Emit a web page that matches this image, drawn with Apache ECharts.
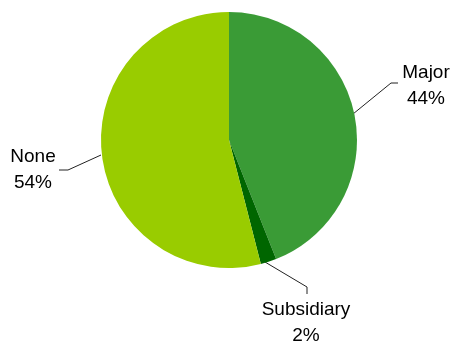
<!DOCTYPE html>
<html><head><meta charset="utf-8">
<script src="https://cdn.jsdelivr.net/npm/echarts@6/dist/echarts.min.js"></script>
<style>html,body{margin:0;padding:0;background:#fff}#c{width:454px;height:346px}</style>
</head><body><div id="c"></div>
<script>
const categories = ['Major', 'Subsidiary', 'None'];
const values = [44, 2, 54];
const colors = ['#3a9b36', '#006600', '#99cc00'];

// label placement (styling only)
const labelPos = [
  {x: 426, y: 86, line: [[353, 114], [391, 83], [398, 83]]},
  {x: 306, y: 323, line: [[265, 262], [307, 287], [307, 294]]},
  {x: 33, y: 170, line: [[101, 155], [68, 170], [59, 170]]}
];

const chart = echarts.init(document.getElementById('c'), null, {renderer: 'canvas'});
chart.setOption({
  animation: false,
  series: [{
    type: 'pie',
    center: [229, 140],
    radius: 128,
    startAngle: 90,
    clockwise: true,
    data: categories.map((c, i) => ({name: c, value: values[i], itemStyle: {color: colors[i]}})),
    label: {
      show: true,
      position: 'outside',
      formatter: '{b}\n{d}%',
      fontFamily: 'Liberation Sans, Arial, sans-serif',
      fontSize: 19,
      lineHeight: 26,
      color: '#000',
      align: 'center',
      overflow: 'none'
    },
    labelLine: {show: true, lineStyle: {color: '#222', width: 1}},
    labelLayout: function (p) {
      const L = labelPos[p.dataIndex];
      return {x: L.x, y: L.y, align: 'center', verticalAlign: 'middle', labelLinePoints: L.line};
    },
    emphasis: {disabled: true}
  }]
});
</script></body></html>
